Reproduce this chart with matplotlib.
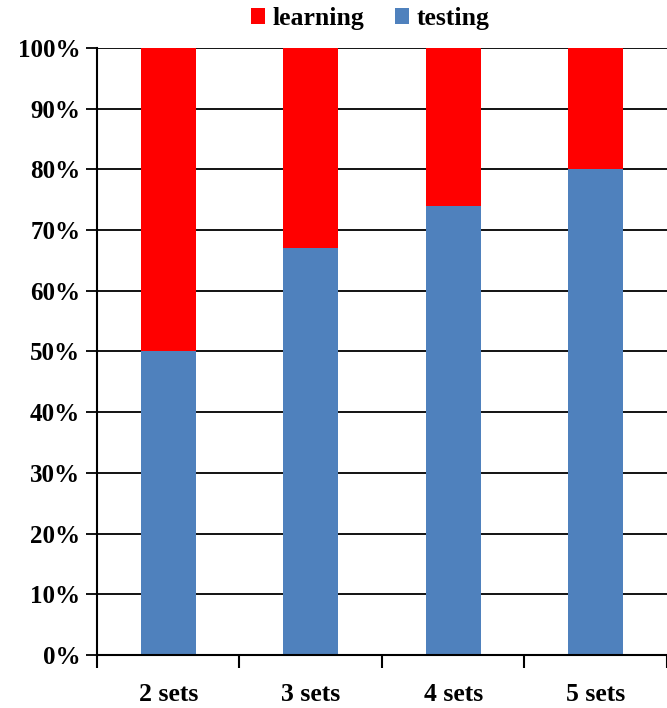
import matplotlib
matplotlib.use("Agg")
import matplotlib.pyplot as plt
import numpy as np

# stacked share of each split
categories = ["2 sets", "3 sets", "4 sets", "5 sets"]
testing = [50, 67, 74, 80]
learning = [50, 33, 26, 20]

plt.rcParams["font.family"] = ["Liberation Serif", "DejaVu Serif"]
plt.rcParams["font.weight"] = "bold"

fig = plt.figure(figsize=(6.67, 7.08), dpi=100)
ax = fig.add_axes([0.1454, 0.0749, 0.8546, 0.8573])

x = np.arange(len(categories))
w = 0.385
ax.bar(x, testing, w, color="#4F81BD", label="testing", zorder=3)
ax.bar(x, learning, w, bottom=testing, color="#FF0000", label="learning", zorder=3)

ax.set_xlim(-0.5, 3.5)
ax.set_ylim(0, 100)
ax.set_yticks(np.arange(0, 101, 10))
ax.set_yticklabels([f"{v}%" for v in range(0, 101, 10)], fontsize=18, fontweight="bold")
ax.grid(axis="y", color="black", lw=1.3, zorder=1)

ax.set_xticks(x)
ax.set_xticklabels(categories, fontsize=18.5, fontweight="bold")
ax.tick_params(axis="x", which="major", length=0, pad=20)
ax.set_xticks(np.arange(-0.5, 3.6, 1), minor=True)
ax.tick_params(axis="x", which="minor", length=9, width=1.5, direction="out")
ax.tick_params(axis="y", length=8, width=1.3, pad=4)

for s in ("top", "right"):
    ax.spines[s].set_visible(False)
for s in ("left", "bottom"):
    ax.spines[s].set_linewidth(1.5)
    ax.spines[s].set_zorder(4)

h, l = ax.get_legend_handles_labels()
fig.legend(h[::-1], l[::-1], loc="center", bbox_to_anchor=(0.555, 0.974), ncol=2,
           frameon=False, fontsize=18.5, handlelength=0.55, handleheight=0.55,
           handletextpad=0.3, columnspacing=1.2)

fig.savefig("out.png", dpi=100)
